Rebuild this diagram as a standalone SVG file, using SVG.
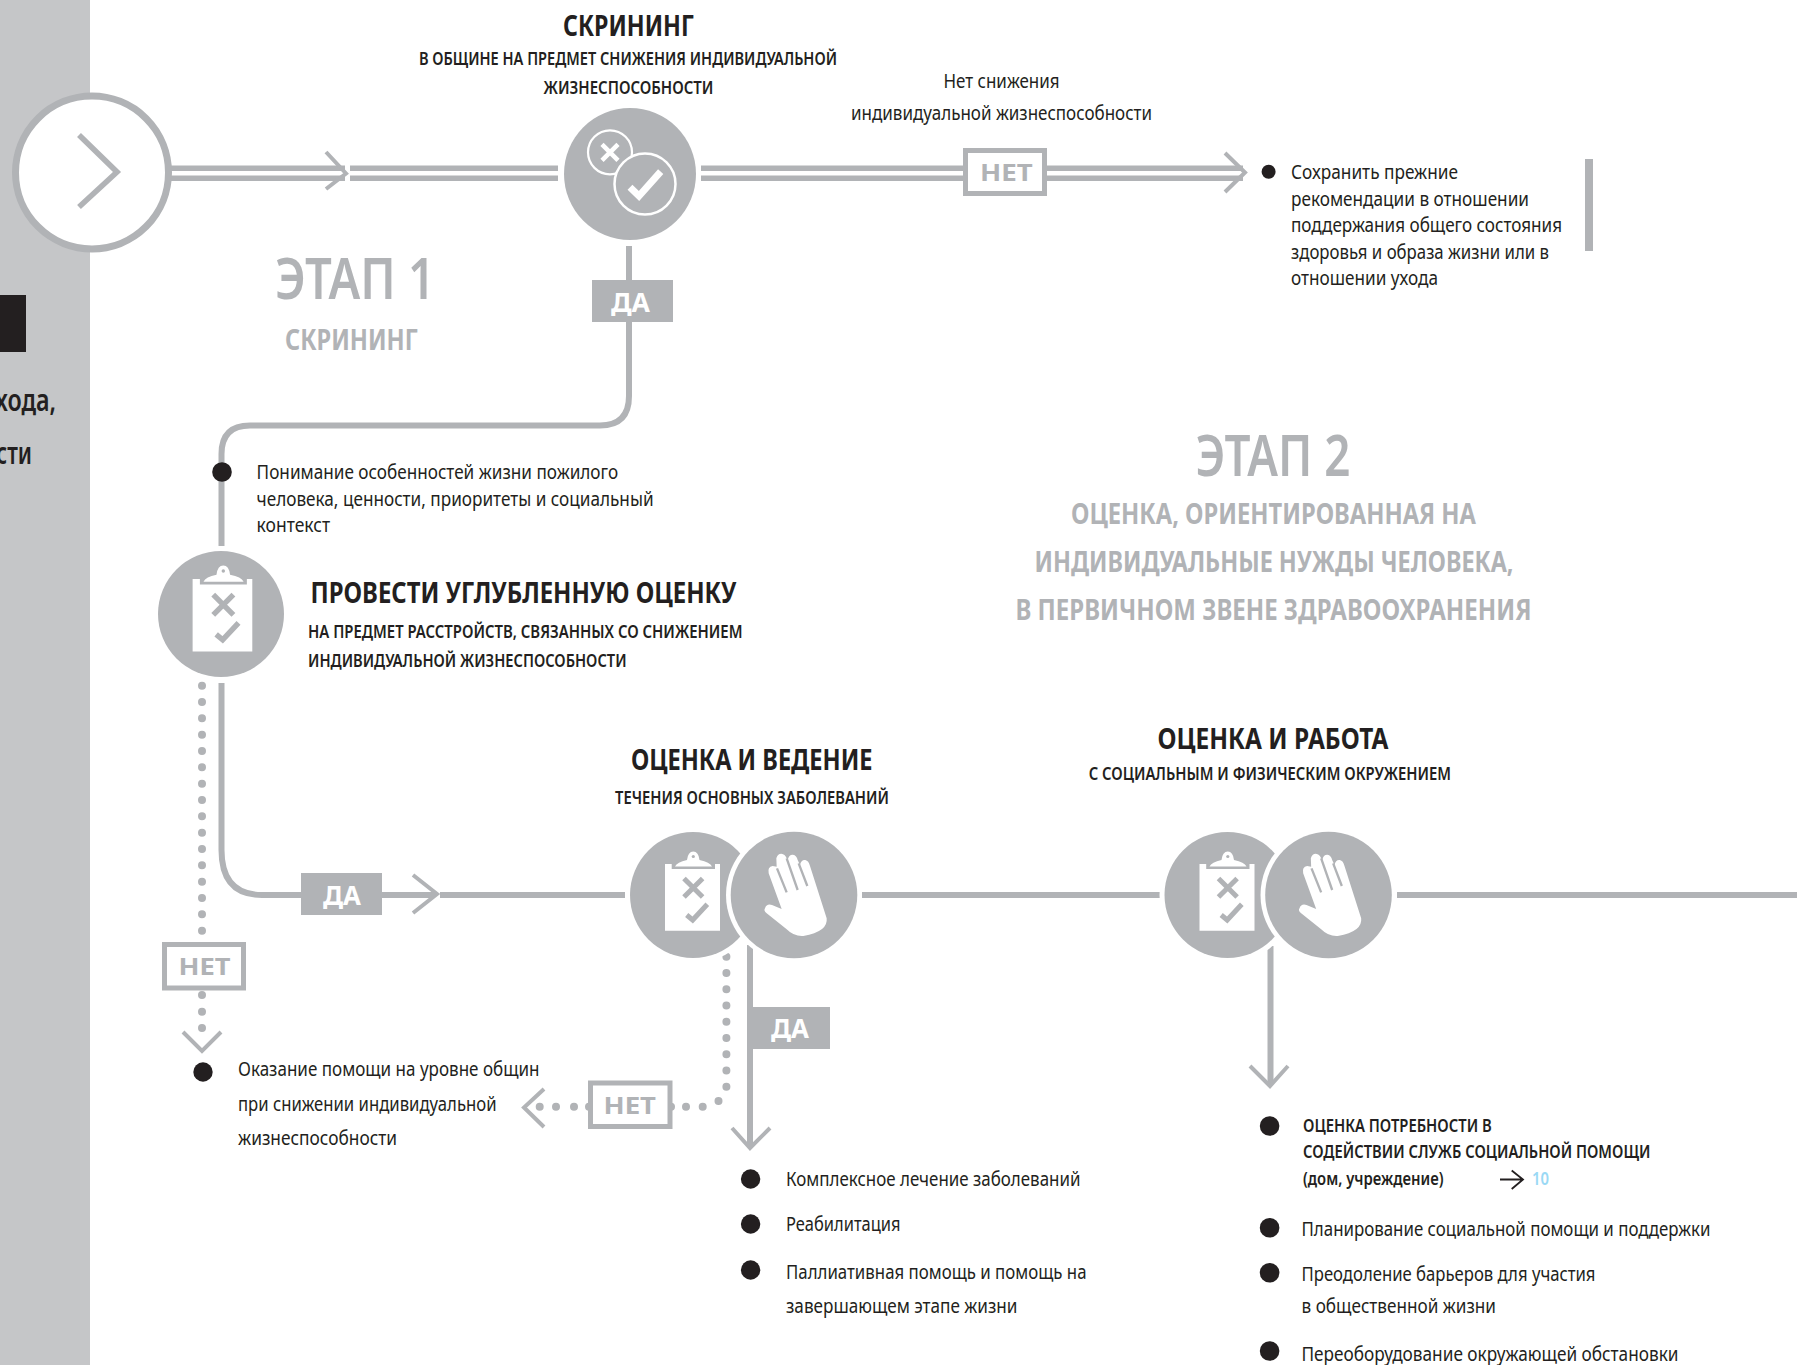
<svg xmlns="http://www.w3.org/2000/svg" xmlns:xlink="http://www.w3.org/1999/xlink" width="1797" height="1365" viewBox="0 0 1797 1365">
<style>
text{font-family:"Noto Sans","Liberation Sans",sans-serif;fill:#231f20}
.b{font-size:19px}
.h{font-size:29px;font-weight:700}
.s{font-size:18.5px;font-weight:600}
.l{font-size:18px;font-weight:600}
.g{fill:#b1b3b6}
.e{font-size:58px;font-weight:600}
.w{font-size:26px;font-weight:700;fill:#fff}
.n{font-size:24px;font-weight:700;fill:#b1b3b6}
.side{font-size:31px;font-weight:600}
.c{fill:none;stroke:#b1b3b6;stroke-width:6}
.d{fill:none;stroke:#b1b3b6;stroke-width:5.6}
.a{fill:none;stroke:#b1b3b6;stroke-width:4}
.dots{fill:none;stroke:#b1b3b6;stroke-width:8;stroke-linecap:round}
.box{fill:#fff;stroke:#b1b3b6;stroke-width:5}
.ye{fill:#b1b3b6}
.fill{fill:#b1b3b6}
.halo{fill:#fff}
.bul{fill:#231f20}
</style>
<defs>
<g id="clip">
<path fill="#fff" d="M-28 -31H-21.300V-26H22V-31H27V35.700H-28Z"/>
<path fill="#fff" d="M-18 -28.500Q-16 -33 -6 -35Q-5 -43.500 .3 -43.500Q5.500 -43.500 6.500 -35Q17 -33 19 -28.500Z"/>
<circle cx=".3" cy="-38.500" r="1.600" fill="#b1b3b6"/>
<path fill="none" stroke="#b1b3b6" stroke-width="5" d="M-9 -16.600L9.600 2M9.600 -16.600L-9 2M-6.300 20L-.3 25L14.300 9.300"/>
</g>
<g id="hand">
<g transform="translate(-184 -85) scale(.33333)">
<path fill="#fff" d="M465 295Q470 280 486 285L515 297L476 190Q472 170 488 168L500 170L499 145Q502 131 514 131Q525 132 530 145L533 150Q537 133 549 134Q560 136 563 150L570 165Q574 148 586 150Q596 152 600 168L650 325Q655 365 580 378Q552 380 530 358L470 310Q460 302 465 295Z"/>
<path fill="none" stroke="#b1b3b6" stroke-width="7" d="M501 175L530 247M530 145L563 240M566 160L592 228"/>
</g>
</g>
</defs>
<rect width="1797" height="1365" fill="#fff"/>
<g id="side-band">
<rect x="0" y="0" width="90" height="1365" fill="#c5c6c8"/>
<rect x="0" y="295" width="26" height="57" fill="#231f20"/>
<text class="side" x="-5" y="411" textLength="61" lengthAdjust="spacingAndGlyphs">хода,</text>
<text class="side" x="-4" y="464" textLength="36" lengthAdjust="spacingAndGlyphs">сти</text>
</g>
<g id="connectors">
<path class="d" d="M171 168.300H345M171 178.300H345M350 168.300H558M350 178.300H558M701 168.300H965M701 178.300H965M1045 168.300H1243M1045 178.300H1243"/>
<path class="a" d="M326 152L346 173.500L326 189M1225 153L1245 172.500L1225 192"/>
<path class="c" d="M629 246V396Q629 425.500 600 425.500H250Q221.500 425.500 221.500 454V546"/>
<path class="c" d="M221.500 683V850Q221.500 895 262 895H434M440 895H625"/>
<path class="a" d="M413 875L437 894L413 913"/>
<path class="dots" stroke-dasharray="0 16.33" d="M202 685.700V932"/>
<path class="dots" d="M202 995h0M202 1011.700h0M202 1028h0"/>
<path class="a" d="M183 1032L202 1051L221 1032"/>
<path class="c" d="M862 895H1160M1397 895H1797"/>
<path class="dots" stroke-dasharray="0 16.25" d="M726.400 956.700V1088"/>
<path class="dots" d="M718.500 1101h0M702.700 1106.700h0M686 1106.700h0M671 1106.700h0M589 1106.700h0M574 1106.700h0M556 1106.700h0M539.700 1106.700h0"/>
<path class="a" d="M544 1089L524 1107.500L544 1127"/>
<path class="c" d="M750 945V1147"/>
<path class="a" d="M732 1128L750 1148L770 1128"/>
<path class="c" d="M1270.500 946V1084"/>
<path class="a" d="M1250 1066L1270 1086L1288 1066"/>
<path fill="none" stroke="#231f20" stroke-width="1.800" d="M1500 1179.500H1522.500M1511.700 1170.500L1523 1179.500L1511.700 1189"/>
</g>
<g id="start">
<circle cx="92" cy="172.500" r="76.500" fill="#fff" stroke="#b1b3b6" stroke-width="7"/>
<path class="d" d="M79 135L117 172L79 207"/>
</g>
<g id="screening">
<circle class="fill" cx="630" cy="174" r="66"/>
<circle cx="610" cy="152.300" r="22" fill="#b1b3b6" stroke="#fff" stroke-width="2.200"/>
<path fill="none" stroke="#fff" stroke-width="4.500" d="M602 144.300L618 160.300M618 144.300L602 160.300"/>
<circle cx="645" cy="184" r="30.500" fill="#b1b3b6" stroke="#fff" stroke-width="2.500"/>
<path fill="none" stroke="#fff" stroke-width="7" d="M630 187.300L639 196L660.700 171.700"/>
<text class="h" x="563" y="36" textLength="131" lengthAdjust="spacingAndGlyphs">СКРИНИНГ</text>
<text class="s" x="419" y="65" textLength="418" lengthAdjust="spacingAndGlyphs">В ОБЩИНЕ НА ПРЕДМЕТ СНИЖЕНИЯ ИНДИВИДУАЛЬНОЙ</text>
<text class="s" x="543.500" y="94" textLength="170" lengthAdjust="spacingAndGlyphs">ЖИЗНЕСПОСОБНОСТИ</text>
</g>
<g id="no-decline">
<text class="b" x="943.500" y="87.700" textLength="116" lengthAdjust="spacingAndGlyphs">Нет снижения</text>
<text class="b" x="851" y="119.500" textLength="301" lengthAdjust="spacingAndGlyphs">индивидуальной жизнеспособности</text>
<rect class="box" x="965.500" y="150.500" width="79" height="43"/>
<text class="n" x="980" y="181" textLength="52.700" lengthAdjust="spacingAndGlyphs">НЕТ</text>
</g>
<g id="keep-advice">
<circle class="bul" cx="1268.600" cy="171.700" r="7"/>
<text class="b" x="1291" y="179" textLength="167" lengthAdjust="spacingAndGlyphs">Сохранить прежние</text>
<text class="b" x="1291" y="205.500" textLength="238" lengthAdjust="spacingAndGlyphs">рекомендации в отношении</text>
<text class="b" x="1291" y="232" textLength="271" lengthAdjust="spacingAndGlyphs">поддержания общего состояния</text>
<text class="b" x="1291" y="258.500" textLength="258" lengthAdjust="spacingAndGlyphs">здоровья и образа жизни или в</text>
<text class="b" x="1291" y="285" textLength="147" lengthAdjust="spacingAndGlyphs">отношении ухода</text>
<rect class="fill" x="1585" y="159" width="8" height="92"/>
</g>
<g id="stage1">
<text class="e g" x="275" y="298.500" textLength="160" lengthAdjust="spacingAndGlyphs">ЭТАП 1</text>
<text class="h g" x="285" y="350" textLength="133" lengthAdjust="spacingAndGlyphs">СКРИНИНГ</text>
</g>
<g id="yes-1">
<rect class="ye" x="592" y="280" width="81" height="42"/>
<text class="w" x="611" y="312" textLength="39" lengthAdjust="spacingAndGlyphs">ДА</text>
</g>
<g id="understanding">
<circle class="bul" cx="222" cy="472" r="9.800"/>
<text class="b" x="256.600" y="479" textLength="361.500" lengthAdjust="spacingAndGlyphs">Понимание особенностей жизни пожилого</text>
<text class="b" x="256.600" y="506" textLength="397" lengthAdjust="spacingAndGlyphs">человека, ценности, приоритеты и социальный</text>
<text class="b" x="256.600" y="532" textLength="73.500" lengthAdjust="spacingAndGlyphs">контекст</text>
</g>
<g id="deep-assessment">
<circle class="fill" cx="221" cy="614" r="63"/>
<use href="#clip" transform="translate(223 612.700) scale(1.085)"/>
<text class="h" x="310.500" y="602.700" textLength="426" lengthAdjust="spacingAndGlyphs">ПРОВЕСТИ УГЛУБЛЕННУЮ ОЦЕНКУ</text>
<text class="s" x="308" y="637.700" textLength="434.500" lengthAdjust="spacingAndGlyphs">НА ПРЕДМЕТ РАССТРОЙСТВ, СВЯЗАННЫХ СО СНИЖЕНИЕМ</text>
<text class="s" x="308" y="666.700" textLength="318.600" lengthAdjust="spacingAndGlyphs">ИНДИВИДУАЛЬНОЙ ЖИЗНЕСПОСОБНОСТИ</text>
</g>
<g id="yes-2">
<rect class="ye" x="301" y="873" width="81" height="42"/>
<text class="w" x="323" y="905" textLength="38" lengthAdjust="spacingAndGlyphs">ДА</text>
</g>
<g id="no-2">
<rect class="box" x="164.500" y="944.500" width="79" height="43.500"/>
<text class="n" x="178.500" y="975" textLength="52" lengthAdjust="spacingAndGlyphs">НЕТ</text>
</g>
<g id="community-care">
<circle class="bul" cx="203" cy="1072" r="9.700"/>
<text class="b" x="238" y="1076" textLength="301.500" lengthAdjust="spacingAndGlyphs">Оказание помощи на уровне общин</text>
<text class="b" x="238" y="1111" textLength="258.500" lengthAdjust="spacingAndGlyphs">при снижении индивидуальной</text>
<text class="b" x="238" y="1145" textLength="159" lengthAdjust="spacingAndGlyphs">жизнеспособности</text>
</g>
<g id="disease-management">
<circle class="halo" cx="693" cy="895" r="68"/>
<circle class="fill" cx="693" cy="895" r="63"/>
<use href="#clip" x="693" y="895"/>
<circle class="halo" cx="794" cy="895" r="68"/>
<circle class="fill" cx="794" cy="895" r="63.300"/>
<use href="#hand" x="794" y="895"/>
<text class="h" x="631" y="770" textLength="241.500" lengthAdjust="spacingAndGlyphs">ОЦЕНКА И ВЕДЕНИЕ</text>
<text class="s" x="615" y="804" textLength="274" lengthAdjust="spacingAndGlyphs">ТЕЧЕНИЯ ОСНОВНЫХ ЗАБОЛЕВАНИЙ</text>
</g>
<g id="yes-3">
<rect class="ye" x="750" y="1007" width="80" height="42"/>
<text class="w" x="771" y="1038" textLength="38" lengthAdjust="spacingAndGlyphs">ДА</text>
</g>
<g id="no-3">
<rect class="box" x="590.500" y="1083" width="79.500" height="43.500"/>
<text class="n" x="603.500" y="1114" textLength="52.500" lengthAdjust="spacingAndGlyphs">НЕТ</text>
</g>
<g id="treatment-list">
<circle class="bul" cx="750.600" cy="1179" r="9.700"/>
<circle class="bul" cx="750.600" cy="1224" r="9.700"/>
<circle class="bul" cx="750.600" cy="1270" r="9.700"/>
<text class="b" x="786" y="1186" textLength="294.500" lengthAdjust="spacingAndGlyphs">Комплексное лечение заболеваний</text>
<text class="b" x="786" y="1231" textLength="114.500" lengthAdjust="spacingAndGlyphs">Реабилитация</text>
<text class="b" x="786" y="1279" textLength="300.500" lengthAdjust="spacingAndGlyphs">Паллиативная помощь и помощь на</text>
<text class="b" x="786" y="1313" textLength="231.500" lengthAdjust="spacingAndGlyphs">завершающем этапе жизни</text>
</g>
<g id="social-assessment">
<circle class="halo" cx="1227.500" cy="895" r="68"/>
<circle class="fill" cx="1227.500" cy="895" r="63"/>
<use href="#clip" x="1227.500" y="895"/>
<circle class="halo" cx="1328.500" cy="895" r="68"/>
<circle class="fill" cx="1328.500" cy="895" r="63.300"/>
<use href="#hand" x="1328.500" y="895"/>
<text class="h" x="1157.500" y="748.500" textLength="231" lengthAdjust="spacingAndGlyphs">ОЦЕНКА И РАБОТА</text>
<text class="s" x="1088.700" y="780" textLength="362.300" lengthAdjust="spacingAndGlyphs">С СОЦИАЛЬНЫМ И ФИЗИЧЕСКИМ ОКРУЖЕНИЕМ</text>
</g>
<g id="stage2">
<text class="e g" x="1195.500" y="475.500" textLength="155" lengthAdjust="spacingAndGlyphs">ЭТАП 2</text>
<text class="h g" x="1071" y="524" textLength="405" lengthAdjust="spacingAndGlyphs">ОЦЕНКА, ОРИЕНТИРОВАННАЯ НА</text>
<text class="h g" x="1034.500" y="572" textLength="479" lengthAdjust="spacingAndGlyphs">ИНДИВИДУАЛЬНЫЕ НУЖДЫ ЧЕЛОВЕКА,</text>
<text class="h g" x="1015.500" y="619.500" textLength="516" lengthAdjust="spacingAndGlyphs">В ПЕРВИЧНОМ ЗВЕНЕ ЗДРАВООХРАНЕНИЯ</text>
</g>
<g id="social-list">
<circle class="bul" cx="1269.600" cy="1126" r="9.800"/>
<circle class="bul" cx="1269.600" cy="1227.800" r="9.800"/>
<circle class="bul" cx="1269.600" cy="1272.800" r="9.800"/>
<circle class="bul" cx="1269.600" cy="1351" r="9.800"/>
<text class="l" x="1303" y="1131.500" textLength="188.700" lengthAdjust="spacingAndGlyphs">ОЦЕНКА ПОТРЕБНОСТИ В</text>
<text class="l" x="1303" y="1157.800" textLength="347.400" lengthAdjust="spacingAndGlyphs">СОДЕЙСТВИИ СЛУЖБ СОЦИАЛЬНОЙ ПОМОЩИ</text>
<text class="l" x="1303" y="1185" textLength="140.600" lengthAdjust="spacingAndGlyphs">(дом, учреждение)</text>
<text class="l" x="1532" y="1185" textLength="17" lengthAdjust="spacingAndGlyphs" style="fill:#9ad9f5">10</text>
<text class="b" x="1301.500" y="1236" textLength="409" lengthAdjust="spacingAndGlyphs">Планирование социальной помощи и поддержки</text>
<text class="b" x="1301.500" y="1281" textLength="294" lengthAdjust="spacingAndGlyphs">Преодоление барьеров для участия</text>
<text class="b" x="1301.500" y="1312.800" textLength="194.500" lengthAdjust="spacingAndGlyphs">в общественной жизни</text>
<text class="b" x="1301.500" y="1361" textLength="377" lengthAdjust="spacingAndGlyphs">Переоборудование окружающей обстановки</text>
</g>
</svg>
